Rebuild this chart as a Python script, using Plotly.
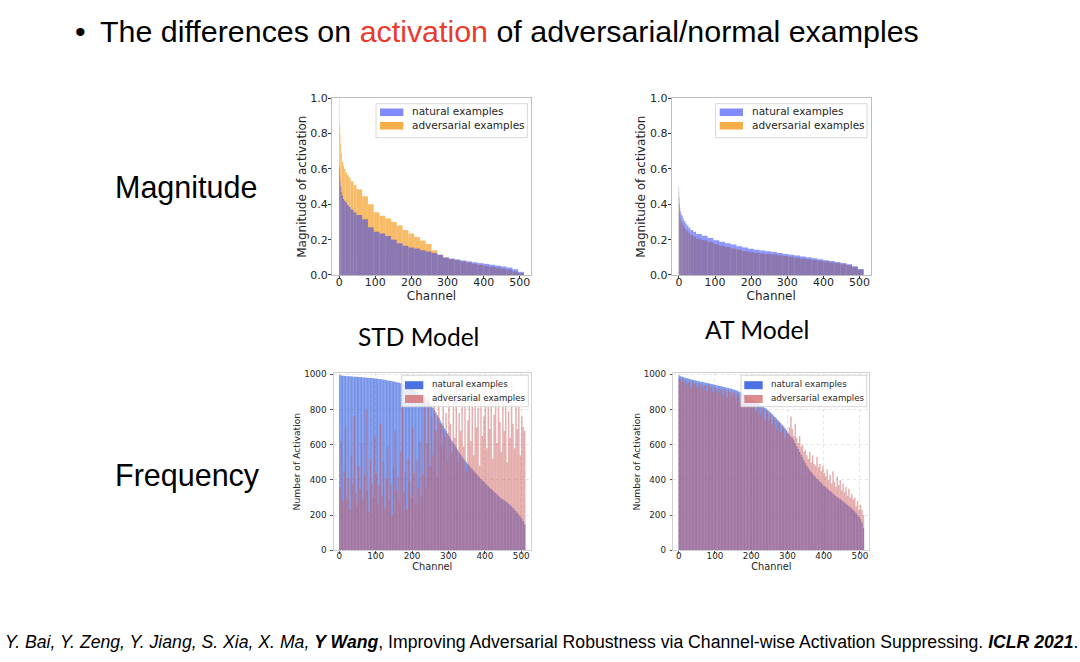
import numpy as np
import plotly.graph_objects as go

W, H = 1080, 662

# ---------------- data ----------------
MAG_EDGES = [0, 1, 2, 3, 4, 6, 8, 11, 14, 18, 22, 27, 32, 40, 48,
             64, 80, 96, 112, 128, 144, 160, 176, 192, 208, 224, 240, 256, 272,
             288, 304, 320, 336, 352, 368, 384, 400, 416, 432, 448, 464, 480, 496, 512]

STD_MAG_NATURAL = [0.62, 0.60, 0.56, 0.53, 0.50, 0.47, 0.45, 0.43, 0.42, 0.41, 0.395, 0.385, 0.37, 0.355,
                   0.34, 0.315, 0.27, 0.245, 0.235, 0.22, 0.20, 0.18, 0.165, 0.155,
                   0.15, 0.14, 0.133, 0.125, 0.115, 0.10, 0.093, 0.088, 0.082, 0.077,
                   0.072, 0.067, 0.063, 0.058, 0.053, 0.048, 0.042, 0.033, 0.018]
STD_MAG_ADVERSARIAL = [1.00, 0.86, 0.84, 0.80, 0.74, 0.69, 0.64, 0.62, 0.60, 0.58, 0.565, 0.55, 0.53, 0.51,
                       0.485, 0.445, 0.40, 0.355, 0.335, 0.32, 0.30, 0.28, 0.255, 0.235,
                       0.215, 0.195, 0.175, 0.14, 0.115, 0.098, 0.09, 0.084, 0.077, 0.07,
                       0.063, 0.057, 0.052, 0.047, 0.042, 0.036, 0.03, 0.02, 0.01]
AT_MAG_NATURAL = [0.50, 0.44, 0.40, 0.38, 0.36, 0.345, 0.335, 0.32, 0.305, 0.292, 0.28, 0.268, 0.255, 0.245,
                  0.232, 0.222, 0.210, 0.196, 0.188, 0.180, 0.172, 0.163, 0.155, 0.148,
                  0.143, 0.139, 0.134, 0.130, 0.125, 0.119, 0.115, 0.110, 0.105, 0.100,
                  0.095, 0.089, 0.084, 0.079, 0.074, 0.068, 0.061, 0.050, 0.034]
AT_MAG_ADVERSARIAL = [0.47, 0.40, 0.36, 0.34, 0.32, 0.305, 0.295, 0.283, 0.27, 0.258, 0.248, 0.238, 0.226, 0.216,
                      0.205, 0.197, 0.187, 0.174, 0.166, 0.158, 0.150, 0.143, 0.136, 0.130,
                      0.126, 0.122, 0.119, 0.116, 0.112, 0.107, 0.103, 0.098, 0.093, 0.089,
                      0.085, 0.080, 0.076, 0.071, 0.066, 0.061, 0.055, 0.045, 0.030]

FREQ_CHANNELS_PER_BAR = 4
STD_FREQ_NATURAL = [996, 994, 993, 992, 991, 990, 990, 989, 988, 988, 987, 986, 986,
                    985, 985, 984, 983, 983, 982, 981, 980, 980, 979, 978, 977, 976,
                    975, 974, 973, 972, 970, 969, 967, 966, 964, 963, 961, 960,
                    958, 956, 954, 952, 950, 947, 944, 941, 938, 934, 929, 924, 918,
                    912, 906, 900, 895, 889, 883, 876, 869, 862, 852, 843, 834,
                    822, 810, 797, 783, 768, 754, 738, 722, 707, 692, 678, 664, 650,
                    636, 623, 610, 597, 584, 571, 558, 545, 532, 520, 510, 500,
                    490, 481, 471, 461, 452, 443, 433, 424, 414, 405, 397, 389, 380,
                    372, 364, 356, 349, 341, 333, 325, 317, 310, 302, 295, 290,
                    284, 278, 271, 265, 257, 249, 241, 232, 223, 213, 202, 190, 179, 166, 148]
STD_FREQ_ADVERSARIAL = [360, 620, 280, 450, 700, 300, 410, 230, 540, 380, 760, 320, 250, 480, 350, 610,
                        290, 430, 800, 340, 220, 520, 380, 300, 650, 440, 260, 370, 720, 310, 500, 240,
                        410, 590, 280, 380, 200, 470, 680, 340, 420, 270, 560, 820, 330, 450, 230, 520,
                        390, 300, 700, 440, 260, 510, 350, 620, 310, 430, 880, 360,
                        610, 900, 480, 760, 540, 950, 680, 420, 830, 720, 590, 910, 650, 780, 500, 870,
                        720, 560, 890, 640, 930, 500, 780, 680, 960, 590, 820, 450, 740, 900, 620, 850,
                        540, 970, 700, 810, 480, 880, 650, 760, 920, 580, 830, 690, 990, 520, 770, 870,
                        610, 940, 730, 560, 850, 680, 910, 500, 790, 640, 960, 720, 580, 880, 690, 820,
                        540, 760, 700, 680]
AT_FREQ_NATURAL = [994, 990, 987, 984, 981, 978, 976, 974, 972, 970, 968, 966, 964,
                   962, 960, 958, 957, 955, 953, 951, 950, 948, 946, 944, 942, 940,
                   938, 936, 934, 932, 930, 928, 926, 924, 922, 920, 918, 916,
                   913, 910, 907, 903, 899, 895, 891, 887, 883, 879, 874, 869, 864,
                   858, 852, 846, 840, 834, 828, 822, 816, 810, 804, 797, 790,
                   783, 775, 767, 758, 749, 740, 731, 722, 713, 704, 694, 682, 668,
                   655, 645, 637, 626, 608, 592, 576, 560, 543, 527, 511, 495,
                   480, 467, 455, 445, 435, 425, 416, 407, 398, 390, 382, 373, 365,
                   358, 351, 344, 337, 330, 323, 316, 309, 302, 296, 290, 284,
                   278, 272, 265, 258, 251, 244, 237, 229, 221, 212, 201, 190, 176, 158, 125]
AT_FREQ_ADVERSARIAL = [975, 962, 978, 950, 968, 940, 960, 955, 930, 958, 945, 950, 925,
                       948, 930, 945, 920, 940, 935, 905, 938, 925, 930, 900, 928, 915,
                       920, 895, 922, 910, 880, 915, 905, 870, 908, 900, 875, 902,
                       890, 860, 895, 880, 845, 885, 870, 835, 872, 860, 820, 855, 848,
                       830, 840, 790, 830, 815, 770, 812, 800, 745, 795, 785, 740,
                       770, 720, 755, 748, 690, 738, 725, 670, 705, 690, 640, 675, 660,
                       700, 760, 690, 650, 720, 640, 610, 650, 590, 600, 560, 570,
                       540, 520, 560, 500, 540, 490, 480, 530, 470, 490, 450, 480, 440,
                       420, 460, 400, 430, 380, 450, 390, 360, 420, 370, 400, 340,
                       380, 330, 360, 310, 350, 300, 320, 290, 300, 250, 280, 230, 260, 230, 200]

SERIES_NAMES = ["natural examples", "adversarial examples"]
CHANNEL_TICKS = [0, 100, 200, 300, 400, 500]
MAG_TICKS = [0.0, 0.2, 0.4, 0.6, 0.8, 1.0]
FREQ_TICKS = [0, 200, 400, 600, 800, 1000]

# ---------------- helpers ----------------
# the photographed page shows the figure slightly squeezed vertically; layout
# positions below are given in photo pixels and mapped back to figure pixels
Y_OFF, Y_SCALE = 5.0, 0.9804


def px_x(p):
    return p / W


def px_y(p):
    return 1 - ((p - Y_OFF) / Y_SCALE) / H


mag_left = np.array(MAG_EDGES[:-1], dtype=float)
mag_width = np.diff(MAG_EDGES).astype(float)
freq_left = np.arange(len(STD_FREQ_NATURAL)) * FREQ_CHANNELS_PER_BAR
freq_width = np.full(len(STD_FREQ_NATURAL), float(FREQ_CHANNELS_PER_BAR))

NAT_TOP = "rgba(30,50,250,0.5)"
ADV_TOP = "rgba(245,160,40,0.7)"
NAT_BOT = "rgba(65,105,225,0.72)"
ADV_BOT = "rgba(205,92,92,0.5)"
NAT_TOP_PATCH = "rgba(30,50,250,0.56)"
ADV_TOP_PATCH = "rgba(245,160,40,0.85)"
NAT_BOT_PATCH = "rgba(65,105,225,0.95)"
ADV_BOT_PATCH = "rgba(205,92,92,0.7)"


def bar(x, y, w, color, name, xa, ya):
    return go.Bar(x=x, y=y, width=w, offset=-0.5,
                  marker=dict(color=color, line=dict(width=0)),
                  name=name, xaxis=xa, yaxis=ya, showlegend=False, hoverinfo="skip")


fig = go.Figure()
fig.add_trace(bar(mag_left, STD_MAG_ADVERSARIAL, mag_width, ADV_TOP, SERIES_NAMES[1], "x", "y"))
fig.add_trace(bar(mag_left, STD_MAG_NATURAL, mag_width, NAT_TOP, SERIES_NAMES[0], "x", "y"))
fig.add_trace(bar(mag_left, AT_MAG_ADVERSARIAL, mag_width, ADV_TOP, SERIES_NAMES[1], "x2", "y2"))
fig.add_trace(bar(mag_left, AT_MAG_NATURAL, mag_width, NAT_TOP, SERIES_NAMES[0], "x2", "y2"))
fig.add_trace(bar(freq_left, STD_FREQ_NATURAL, freq_width, NAT_BOT, SERIES_NAMES[0], "x3", "y3"))
fig.add_trace(bar(freq_left, STD_FREQ_ADVERSARIAL, freq_width, ADV_BOT, SERIES_NAMES[1], "x3", "y3"))
fig.add_trace(bar(freq_left, AT_FREQ_NATURAL, freq_width, NAT_BOT, SERIES_NAMES[0], "x4", "y4"))
fig.add_trace(bar(freq_left, AT_FREQ_ADVERSARIAL, freq_width, ADV_BOT, SERIES_NAMES[1], "x4", "y4"))

CHART_FONT = "DejaVu Sans"
TICKFONT_TOP = dict(family=CHART_FONT, size=11, color="#262626")
TICKFONT_BOT = dict(family=CHART_FONT, size=8.8, color="#262626")


def top_x(domain, anchor):
    return dict(domain=domain, anchor=anchor, range=[-20, 531], tickvals=CHANNEL_TICKS,
                showline=True, mirror=True, linecolor="#bdbdbd", linewidth=1,
                ticks="outside", ticklen=3, tickwidth=0.8, tickcolor="#333", ticklabelstandoff=-6,
                tickfont=TICKFONT_TOP, showgrid=False, zeroline=False,
                title=dict(text="Channel", font=dict(family=CHART_FONT, size=12, color="#262626"), standoff=0))


def top_y(domain, anchor):
    return dict(domain=domain, anchor=anchor, range=[0, 1.0], tickvals=MAG_TICKS, tickformat=".1f",
                showline=True, mirror=True, linecolor="#bdbdbd", linewidth=1,
                ticks="outside", ticklen=3, tickwidth=0.8, tickcolor="#333", ticklabelstandoff=-2,
                tickfont=TICKFONT_TOP, showgrid=False, zeroline=False,
                title=dict(text="Magnitude of activation", font=dict(family=CHART_FONT, size=12, color="#262626"), standoff=1))


def bot_x(domain, anchor):
    return dict(domain=domain, anchor=anchor, range=[-15, 526], tickvals=CHANNEL_TICKS,
                showline=True, mirror=True, linecolor="#d0d0d0", linewidth=1,
                ticks="outside", ticklen=2.5, tickwidth=0.8, tickcolor="#555", ticklabelstandoff=-5,
                tickfont=TICKFONT_BOT, showgrid=True, gridcolor="rgba(225,225,225,0.85)",
                griddash="dot", gridwidth=0.8, zeroline=False, layer="above traces",
                title=dict(text="Channel", font=dict(family=CHART_FONT, size=9.8, color="#262626"), standoff=0))


def bot_y(domain, anchor):
    return dict(domain=domain, anchor=anchor, range=[0, 1008], tickvals=FREQ_TICKS,
                showline=True, mirror=True, linecolor="#d0d0d0", linewidth=1,
                ticks="outside", ticklen=2.5, tickwidth=0.8, tickcolor="#555", ticklabelstandoff=2,
                tickfont=TICKFONT_BOT, showgrid=True, gridcolor="rgba(225,225,225,0.85)",
                griddash="dot", gridwidth=0.8, zeroline=False, layer="above traces",
                title=dict(text="Number of Activation", font=dict(family=CHART_FONT, size=9.2, color="#262626"), standoff=1))


top_ydom = [px_y(274), px_y(97.3)]
bot_ydom = [px_y(549.3), px_y(372)]

fig.update_layout(
    width=W, height=H, autosize=False,
    margin=dict(l=0, r=0, t=0, b=0, pad=0),
    paper_bgcolor="white", plot_bgcolor="white",
    barmode="overlay", showlegend=False,
    xaxis=top_x([px_x(332), px_x(531)], "y"),
    yaxis=top_y(top_ydom, "x"),
    xaxis2=top_x([px_x(671.7), px_x(870.7)], "y2"),
    yaxis2=top_y(top_ydom, "x2"),
    xaxis3=bot_x([px_x(333.8), px_x(530.7)], "y3"),
    yaxis3=bot_y(bot_ydom, "x3"),
    xaxis4=bot_x([px_x(673.3), px_x(869.4)], "y4"),
    yaxis4=bot_y(bot_ydom, "x4"),
)

shapes = []
annotations = []


def legend_box(box, patch_x, rows, text_x, fsize, colors):
    bx0, by0, bx1, by1 = box
    shapes.append(dict(type="rect", xref="paper", yref="paper", layer="above",
                       x0=px_x(bx0), x1=px_x(bx1), y0=px_y(by1), y1=px_y(by0),
                       fillcolor="rgba(255,255,255,0.82)", line=dict(color="#d6d6d6", width=1)))
    for (r0, r1), col, name in zip(rows, colors, SERIES_NAMES):
        shapes.append(dict(type="rect", xref="paper", yref="paper", layer="above",
                           x0=px_x(patch_x[0]), x1=px_x(patch_x[1]), y0=px_y(r1), y1=px_y(r0),
                           fillcolor=col, line=dict(width=0)))
        annotations.append(dict(text=name, x=px_x(text_x), y=px_y((r0 + r1) / 2 - 0.8),
                                xanchor="left", yanchor="middle",
                                font=dict(family=CHART_FONT, size=fsize, color="#262626")))


top_rows = [(107.5, 115), (121, 128.5)]
bot_rows = [(380.2, 388.2), (394, 402)]
legend_box((376, 102.7, 527.3, 136.7), (380, 403.3), top_rows, 410, 10.5, [NAT_TOP_PATCH, ADV_TOP_PATCH])
legend_box((715.7, 102.7, 867, 136.7), (719.7, 743), top_rows, 749.7, 10.5, [NAT_TOP_PATCH, ADV_TOP_PATCH])
legend_box((401.7, 374.3, 528.3, 405.7), (405, 423.3), bot_rows, 430, 8.7, [NAT_BOT_PATCH, ADV_BOT_PATCH])
legend_box((741, 374.3, 866.7, 405.7), (744.3, 762.7), bot_rows, 769.3, 8.7, [NAT_BOT_PATCH, ADV_BOT_PATCH])

SLIDE_FONT = "Liberation Sans, Arial, sans-serif"
annotations += [
    dict(text="•", x=px_x(80), y=px_y(30.5), xanchor="center", yanchor="middle",
         font=dict(family=SLIDE_FONT, size=30.4, color="black")),
    dict(text="The differences on <span style='color:#ea3a2d'>activation</span> of adversarial/normal examples",
         x=px_x(97.5), y=px_y(30.5), xanchor="left", yanchor="middle",
         font=dict(family=SLIDE_FONT, size=30.4, color="black")),
    dict(text="Magnitude", x=px_x(112.5), y=px_y(186.3), xanchor="left", yanchor="middle",
         font=dict(family=SLIDE_FONT, size=30.5, color="black")),
    dict(text="Frequency", x=px_x(112.5), y=px_y(474.5), xanchor="left", yanchor="middle",
         font=dict(family=SLIDE_FONT, size=30.5, color="black")),
    dict(text="STD Model", x=px_x(418), y=px_y(335.5), xanchor="center", yanchor="middle",
         font=dict(family="Lato, Open Sans, sans-serif", size=24.5, color="black")),
    dict(text="AT Model", x=px_x(757), y=px_y(328.5), xanchor="center", yanchor="middle",
         font=dict(family="Lato, Open Sans, sans-serif", size=24.7, color="black")),
    dict(text="<i>Y. Bai, Y. Zeng, Y. Jiang, S. Xia, X. Ma, <b>Y Wang</b></i>, Improving Adversarial Robustness via "
              "Channel-wise Activation Suppressing. <i><b>ICLR 2021</b></i>.",
         x=px_x(3), y=px_y(641), xanchor="left", yanchor="middle",
         font=dict(family=SLIDE_FONT, size=17.65, color="black")),
]
for a in annotations:
    a.update(xref="paper", yref="paper", showarrow=False)
fig.update_layout(annotations=annotations, shapes=shapes)

POST = ("var de=document.documentElement, b=document.body;"
        "de.style.margin='0';de.style.padding='0';de.style.overflow='hidden';"
        "b.style.margin='0';b.style.padding='0';b.style.overflow='hidden';")

fig.write_html("out.html", config={"displayModeBar": False}, post_script=POST)
